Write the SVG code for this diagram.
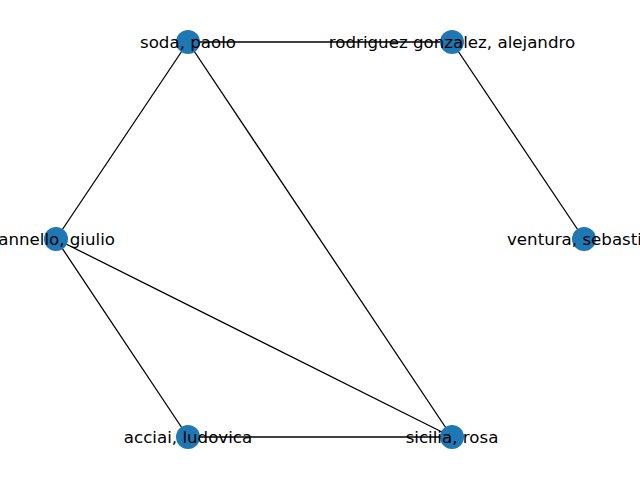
<svg xmlns="http://www.w3.org/2000/svg" width="640" height="480" viewBox="0 0 640 480">
<style>
.e{stroke:#000;stroke-width:1.3;fill:none}
.n{fill:#1f77b4}
.t{font-family:"DejaVu Sans",sans-serif;font-size:16.67px;fill:#000;dominant-baseline:central}
</style>
<rect width="640" height="480" fill="#fff"/>
<g id="edges">
<line class="e" x1="188" y1="42" x2="452" y2="42"/>
<line class="e" x1="188" y1="42" x2="56" y2="239"/>
<line class="e" x1="188" y1="42" x2="452" y2="437"/>
<line class="e" x1="452" y1="42" x2="584" y2="239"/>
<line class="e" x1="56" y1="239" x2="188" y2="437"/>
<line class="e" x1="56" y1="239" x2="452" y2="437"/>
<line class="e" x1="188" y1="437" x2="452" y2="437"/>
</g>
<g id="soda"><circle class="n" cx="188" cy="42" r="12"/><text class="t" x="188" y="42" text-anchor="middle">soda, paolo</text></g>
<g id="rodriguez"><circle class="n" cx="452" cy="42" r="12"/><text class="t" x="452" y="42" text-anchor="middle">rodriguez gonzalez, alejandro</text></g>
<g id="giulio"><circle class="n" cx="56" cy="239" r="12"/><text class="t" x="115" y="239" text-anchor="end">annello, giulio</text></g>
<g id="ventura"><circle class="n" cx="584" cy="239" r="12"/><text class="t" x="507" y="239" text-anchor="start">ventura, sebasti</text></g>
<g id="acciai"><circle class="n" cx="188" cy="437" r="12"/><text class="t" x="188" y="437" text-anchor="middle">acciai, ludovica</text></g>
<g id="sicilia"><circle class="n" cx="452" cy="437" r="12"/><text class="t" x="452" y="437" text-anchor="middle">sicilia, rosa</text></g>
</svg>
